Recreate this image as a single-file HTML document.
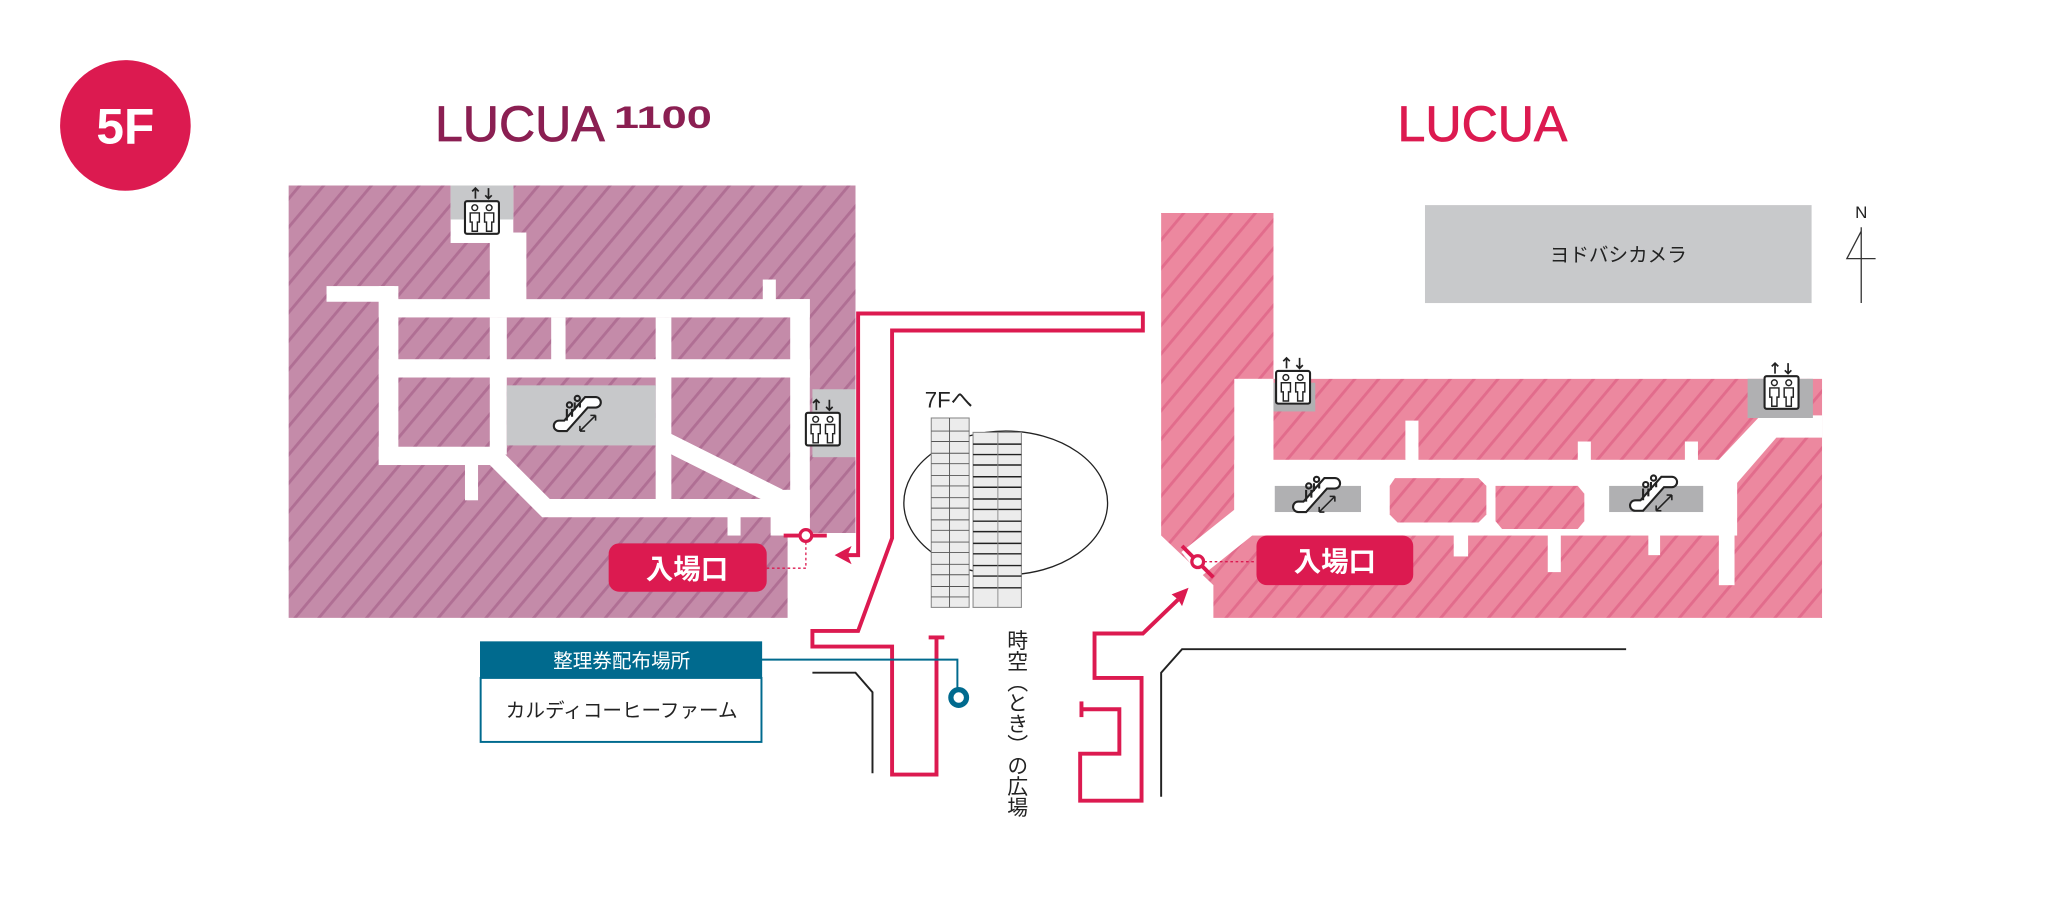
<!DOCTYPE html>
<html><head><meta charset="utf-8"><style>
html,body{margin:0;padding:0;background:#fff;width:2048px;height:900px;overflow:hidden}
svg{display:block}
text{font-family:"Liberation Sans","Noto Sans CJK JP",sans-serif}
</style></head><body>
<svg width="2048" height="900" viewBox="0 0 1568 689" xmlns="http://www.w3.org/2000/svg">
<defs>
<pattern id="hl" patternUnits="userSpaceOnUse" width="14" height="14" patternTransform="rotate(40)">
<rect width="14" height="14" fill="#c48ba9"/><rect width="2.2" height="14" fill="#b06f94"/></pattern>
<pattern id="hr" patternUnits="userSpaceOnUse" width="14" height="14" patternTransform="rotate(40)">
<rect width="14" height="14" fill="#ec889f"/><rect width="2.2" height="14" fill="#e26c8c"/></pattern>
<g id="elev">
<path d="M-5 -14 v-8 M-7.5 -19.5 L-5 -22 L-2.5 -19.5 M5 -22 v8 M2.5 -16.5 L5 -14 L7.5 -16.5" stroke="#222" stroke-width="1.3" fill="none"/>
<rect x="-13" y="-12" width="26" height="25" rx="1.5" fill="#fff" stroke="#222" stroke-width="1.6"/>
<g fill="none" stroke="#222" stroke-width="1.1">
<circle cx="-5.5" cy="-7" r="2.2"/><path d="M-9 -3 h7 v7 h-1.5 v7 h-4 v-7 h-1.5z"/>
<circle cx="5.5" cy="-7" r="2.2"/><path d="M2 -3 h7 v7 h-1.5 v7 h-4 v-7 h-1.5z"/></g>
</g>
<g id="esc" fill="none" stroke="#222" stroke-width="1.6">
<path d="M-14 12 h6 l16 -18 h6 a4 4 0 0 0 0 -8 h-8 l-16 18 h-4 a4 4 0 0 0 0 8z" fill="#fff"/>
<circle cx="-6" cy="-8" r="2"/><path d="M-8 -5 v9 M-4 -5 v6"/>
<circle cx="0" cy="-13" r="2"/><path d="M-2 -10 v6 M2 -10 v4"/>
<path d="M2 12 l12 -12 M2 12 v-4 M2 12 h4 M14 0 v4 M14 0 h-4" stroke-width="1.2"/>
</g>
</defs>

<!-- 5F -->
<circle cx="96" cy="96" r="50" fill="#dc1a50"/>
<text x="96" y="110" font-size="38" font-weight="bold" fill="#fff" text-anchor="middle">5F</text>

<!-- logos -->
<text x="333" y="108" font-size="38" fill="#8b1f52" textLength="130" lengthAdjust="spacingAndGlyphs" stroke="#8b1f52" stroke-width="0.6">LUCUA</text>
<text x="470" y="98" font-size="24" font-weight="bold" fill="#8b1f52" textLength="75" lengthAdjust="spacingAndGlyphs">1100</text>
<text x="1070" y="108" font-size="38" fill="#dc1a50" textLength="130" lengthAdjust="spacingAndGlyphs" stroke="#dc1a50" stroke-width="0.6">LUCUA</text>

<!-- left building -->
<path d="M221 142 H655 V408 H603 V473 H221Z" fill="url(#hl)"/>
<g fill="#fff">
<rect x="345" y="142" width="48" height="44"/>
<rect x="375" y="178" width="28" height="62"/>
<rect x="250" y="219" width="52" height="12"/>
<rect x="290" y="219" width="15" height="137"/>
<rect x="290" y="229" width="330" height="14"/>
<rect x="584" y="214" width="10" height="20"/>
<rect x="605" y="229" width="15" height="175"/>
<rect x="290" y="275" width="330" height="14"/>
<rect x="290" y="342" width="92" height="14"/>
<rect x="375" y="243" width="13" height="105"/>
<rect x="422" y="243" width="11" height="35"/>
<rect x="502" y="243" width="12" height="148"/>
<rect x="356" y="350" width="10" height="33"/>
<rect x="557" y="390" width="10" height="20"/>
<rect x="590" y="375" width="30" height="35"/>
</g>
<polyline points="378,349 418,389 610,389" fill="none" stroke="#fff" stroke-width="14"/>
<line x1="510" y1="338" x2="596" y2="381" stroke="#fff" stroke-width="14"/>
<rect x="388" y="295" width="114" height="46" fill="#c7c8ca"/>
<rect x="345" y="142" width="48" height="26" fill="#c7c8ca"/>
<rect x="622" y="298" width="33" height="52" fill="#c7c8ca"/>
<use href="#elev" x="369" y="166"/>
<use href="#elev" x="630" y="328"/>
<use href="#esc" x="442" y="318"/>

<!-- right building -->
<rect x="1091" y="157" width="296" height="75" fill="#c8c9cb"/>
<text x="1239" y="200" font-size="15" fill="#222" text-anchor="middle">ヨドバシカメラ</text>
<path d="M889 163 H975 V290 H1395 V473 H929 V448 L889 410Z" fill="url(#hr)"/>
<g fill="#fff">
<rect x="945" y="290" width="30" height="110"/>
<rect x="945" y="352" width="385" height="58"/>
<rect x="1076" y="322" width="10" height="32"/>
<rect x="1208" y="338" width="10" height="16"/>
<rect x="1290" y="338" width="10" height="16"/>
<rect x="1113" y="405" width="11" height="21"/>
<rect x="1185" y="405" width="10" height="33"/>
<rect x="1262" y="405" width="9" height="20"/>
<rect x="1316" y="352" width="12" height="96"/>
<polygon points="1316,352 1348,318 1395,318 1395,335 1360,335 1328,372"/>
</g>
<polyline points="962,392 912,432" stroke="#fff" stroke-width="24" fill="none"/>
<path d="M1068 366 H1132 L1138 372 V394 L1132 400 H1070 L1064 394 V372Z" fill="url(#hr)"/>
<path d="M1145 372 H1208 L1213 378 V399 L1208 405 H1150 L1145 399Z" fill="url(#hr)"/>
<rect x="976" y="372" width="66" height="20" fill="#b0b0b2"/>
<rect x="1232" y="372" width="72" height="20" fill="#b0b0b2"/>
<rect x="975" y="293" width="32" height="22" fill="#b0b0b2"/>
<rect x="1338" y="290" width="50" height="30" fill="#b0b0b2"/>
<use href="#elev" x="990" y="296"/>
<use href="#elev" x="1364" y="300"/>
<use href="#esc" x="1008" y="380"/>
<use href="#esc" x="1266" y="379"/>

<!-- compass -->
<text x="1425" y="167" font-size="13" fill="#222" text-anchor="middle">N</text>
<path d="M1425 174 V232 M1425 177 L1414 198 H1436" stroke="#333" stroke-width="1" fill="none"/>

<!-- oval & stairs -->
<ellipse cx="770" cy="385" rx="78" ry="55" fill="#fff" stroke="#222" stroke-width="1"/>
<rect x="713" y="320" width="29" height="145" fill="#ececec" stroke="#888" stroke-width="0.8"/>
<rect x="745" y="331" width="37" height="134" fill="#ececec" stroke="#888" stroke-width="0.8"/>
<g stroke="#555" stroke-width="0.7">
<path d="M713 330 H742 M713 338 H742 M713 347 H742 M713 355 H742 M713 364 H742 M713 372 H742 M713 381 H742 M713 389 H742 M713 398 H742 M713 406 H742 M713 415 H742 M713 423 H742 M713 432 H742 M713 440 H742 M713 449 H742 M713 457 H742 M727 320 V465"/>
</g>
<g stroke="#222" stroke-width="1.1">
<path d="M745 340 H782 M745 348 H782 M745 356 H782 M745 365 H782 M745 373 H782 M745 382 H782 M745 390 H782 M745 399 H782 M745 407 H782 M745 416 H782 M745 424 H782 M745 433 H782 M745 441 H782 M745 450 H782"/>
<path d="M764 331 V465" stroke="#888" stroke-width="0.7"/>
</g>
<text x="708" y="312" font-size="17" fill="#222">7Fへ</text>
<text x="778" y="482" font-size="16" fill="#222" style="writing-mode:vertical-rl" writing-mode="tb">時空（とき）の広場</text>

<!-- black lines -->
<polyline points="622,515 655,515 668,530 668,592" fill="none" stroke="#222" stroke-width="1.5"/>
<polyline points="1245,497 905,497 889,515 889,610" fill="none" stroke="#222" stroke-width="1.5"/>

<!-- red routes -->
<g fill="none" stroke="#dc1a50" stroke-width="3">
<polyline points="646,425 657,425 657,240 875,240 875,253 683,253 683,412 657,483 622,483 622,495 683,495 683,593 717,593 717,488"/>
<line x1="711" y1="488" x2="723" y2="488"/>
<polyline points="902,459 875,485 838,485 838,519 874,519 874,613 827,613 827,577 857,577 857,543 828,543"/>
<line x1="828" y1="537" x2="828" y2="549"/>
<line x1="600" y1="410" x2="633" y2="410"/>
<line x1="905" y1="418" x2="929" y2="442"/>
</g>
<path d="M639 425 L652 418 L649 425 L652 432Z" fill="#dc1a50"/>
<path d="M910 450 L897 455 L902 459 L905 464Z" fill="#dc1a50"/>
<circle cx="617" cy="410" r="4.5" fill="#fff" stroke="#dc1a50" stroke-width="2.5"/>
<circle cx="917" cy="430" r="4.5" fill="#fff" stroke="#dc1a50" stroke-width="2.5"/>
<polyline points="587,435 617,435 617,414" fill="none" stroke="#dc1a50" stroke-width="1" stroke-dasharray="2,2"/>
<line x1="922" y1="430" x2="962" y2="430" stroke="#dc1a50" stroke-width="1" stroke-dasharray="2,2"/>

<!-- entrance labels -->
<rect x="466" y="416" width="121" height="37" rx="8" fill="#dc1a50"/>
<text x="526" y="443" font-size="21" font-weight="bold" fill="#fff" text-anchor="middle">入場口</text>
<rect x="962" y="410" width="120" height="38" rx="8" fill="#dc1a50"/>
<text x="1022" y="437" font-size="21" font-weight="bold" fill="#fff" text-anchor="middle">入場口</text>

<!-- ticket box -->
<rect x="368" y="519" width="215" height="49" fill="#fff" stroke="#006a8e" stroke-width="1.5"/>
<rect x="367.5" y="491" width="216" height="28" fill="#006a8e"/>
<text x="476" y="511" font-size="15" fill="#fff" text-anchor="middle">整理券配布場所</text>
<text x="476" y="549" font-size="15" fill="#222" text-anchor="middle">カルディコーヒーファーム</text>
<polyline points="583,505 733,505 733,527" fill="none" stroke="#006a8e" stroke-width="1.5"/>
<circle cx="734" cy="534" r="6" fill="#fff" stroke="#006a8e" stroke-width="4"/>
</svg>
</body></html>
